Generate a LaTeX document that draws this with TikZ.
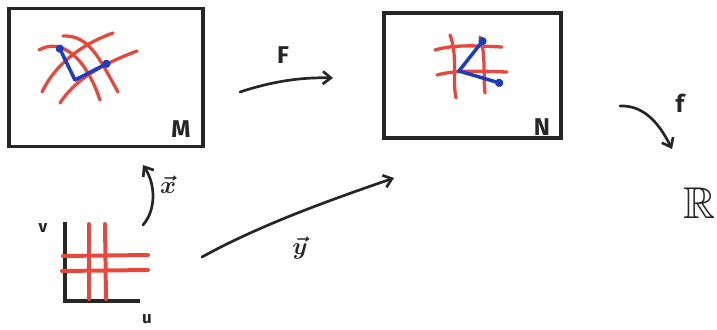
\documentclass[tikz,border=0pt]{standalone}
\usepackage{amsmath,amssymb}
\usepackage{fontspec}
\setsansfont{Fira Sans}
\usepackage{tikz}
\usetikzlibrary{arrows.meta,positioning}
\definecolor{chalk}{HTML}{262626}
\definecolor{inkred}{HTML}{E8483B}
\definecolor{inkblue}{HTML}{1C3CC2}

\begin{document}
\begin{tikzpicture}[x=0.3mm, y=-0.3mm,
  frame/.style={draw=chalk, line width=3.2pt, inner sep=0pt},
  sheet/.style={inkred, line width=2.8pt, line cap=round},
  tangent/.style={inkblue, line width=3pt, line cap=round, -{Circle[length=2.4mm]}},
  map/.style={chalk, line width=2.3pt, line cap=round, -{Straight Barb[length=2.4mm, width=3.8mm, line width=2.3pt]}},
  lbl/.style={font=\sffamily\bfseries\huge, text=chalk, inner sep=0pt},
  small/.style={font=\sffamily\bfseries\Large, text=chalk, inner sep=0pt},
  vlbl/.style={font=\huge, text=chalk, inner sep=0pt},
  ]
  \useasboundingbox (0,0) rectangle (717,329);

  % the two manifolds
  \node[frame, minimum width=58.2mm, minimum height=41.4mm] (M) at (106,77.5) {};
  \node[frame, minimum width=53.1mm, minimum height=37.5mm] (N) at (472.5,75.5) {};
  \node[lbl] (labM) at (181,129) {M};
  \node[lbl] (labN) at (542,127) {N};

  % curved chart grid in M
  \draw[sheet] (42,92) .. controls (55,65) and (80,45) .. (113,33);
  \draw[sheet] (60,103) .. controls (75,80) and (100,65) .. (137,51);
  \draw[sheet] (39,50) .. controls (60,38) and (85,55) .. (100,100);
  \draw[sheet] (63,36) .. controls (90,35) and (100,60) .. (118,92);
  \coordinate (pM) at (75,80);
  \draw[tangent] (pM) -- (58,45);
  \draw[tangent] (pM) -- (110,62);

  % image grid in N
  \draw[sheet] (450,35) .. controls (458,55) and (452,80) .. (456,98);
  \draw[sheet] (480,37) .. controls (486,55) and (483,75) .. (485,93);
  \draw[sheet] (435,50) .. controls (455,44) and (480,46) .. (502,47);
  \draw[sheet] (437,75) .. controls (455,70) and (480,71) .. (507,72);
  \coordinate (pN) at (459,71);
  \draw[tangent] (pN) -- (485,38);
  \draw[tangent] (pN) -- (503,84);

  % parameter domain
  \coordinate (O) at (65,301);
  \draw[chalk, line width=2.8pt] (65,222) -- (O) -- (140,301);
  \node[small] (labv) at (43,228) {v};
  \node[small] (labu) at (147,319) {u};
  \draw[sheet, line width=3.4pt] (89,224) -- (89,299);
  \draw[sheet, line width=3.4pt] (105,224) -- (106,299);
  \draw[sheet, line width=3.4pt] (63,256) -- (148,255);
  \draw[sheet, line width=3.4pt] (62,271) -- (148,270);

  % target
  \node[font=\fontsize{38}{38}\selectfont, text=chalk, inner sep=0pt, anchor=east] (R) at (716,203) {$\mathbb{R}$};

  % maps
  \coordinate (Fa) at (240,92);
  \coordinate (Fb) at (333,78);
  \draw[map] (Fa) .. controls (270,82) and (300,77) .. (Fb);
  \node[lbl] (labF) at (283,55) {F};

  \coordinate (fa) at (620,106);
  \coordinate (fb) at (672,149);
  \draw[map] (fa) .. controls (645,105) and (660,125) .. (fb);
  \node[lbl] (labf) at (680,103) {f};

  \coordinate (xa) at (143,225);
  \coordinate (xb) at (143,165);
  \draw[map] (xa) .. controls (156,210) and (156,185) .. (xb);
  \node[vlbl] (labx) at (168,185) {$\boldsymbol{\vec{x}}$};

  \coordinate (ya) at (202,257);
  \coordinate (yb) at (394,178);
  \draw[map] (ya) .. controls (260,225) and (330,200) .. (yb);
  \node[vlbl] (laby) at (300,248) {$\boldsymbol{\vec{y}}$};
\end{tikzpicture}
\end{document}
